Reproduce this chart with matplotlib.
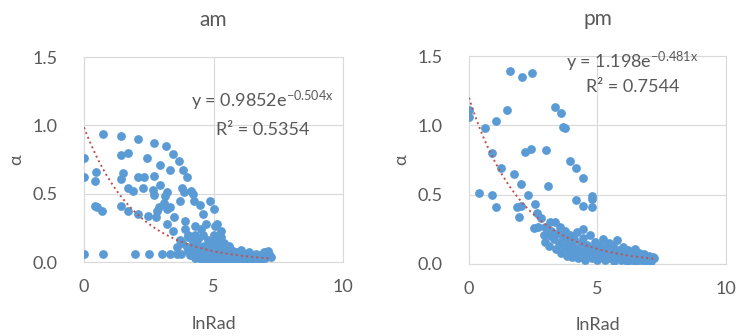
import numpy as np
import matplotlib
matplotlib.use("Agg")
import matplotlib.pyplot as plt

plt.rcParams['font.family'] = ['Lato', 'DejaVu Sans']
plt.rcParams['mathtext.default'] = 'regular'

# am panel: lnRad vs alpha
am_x = [0.00, 0.00, 0.45, 0.43, 0.43, 0.52, 0.71, 0.00, 0.72, 0.72,
        1.42, 1.42, 1.71, 1.42, 1.52, 1.42, 1.71, 1.71, 1.88, 1.97,
        2.09, 2.09, 2.32, 2.27, 2.07, 2.44, 2.50, 2.69, 2.69, 2.65,
        2.71, 2.46, 2.76, 3.02, 3.17, 2.94, 3.32, 3.32, 2.94, 3.07,
        3.20, 3.20, 3.45, 3.65, 3.32, 3.48, 3.58, 3.74, 3.45, 3.71,
        3.84, 3.97, 3.78, 3.87, 3.90, 4.12, 4.20, 4.25, 4.48, 4.61,
        4.85, 5.00, 5.06, 5.15, 5.28, 5.00, 4.64, 4.29, 4.51, 4.03,
        3.71, 3.97, 3.58, 2.81, 2.91, 3.13, 3.20,
        3.80, 4.00, 4.20, 4.40, 4.60, 4.80, 5.00, 5.20, 5.40, 5.60,
        4.30, 4.70, 3.90, 5.30,
        4.00, 4.10, 4.20, 4.30, 4.35, 4.40, 4.50, 4.55, 4.60, 4.70,
        4.75, 4.80, 4.85, 4.90, 5.00, 5.00, 5.05, 5.10, 5.15, 5.20,
        5.25, 5.30, 5.35, 5.40, 5.45, 5.50, 5.55, 5.60, 5.65, 5.70,
        5.75, 5.80, 5.85, 5.90, 5.95, 6.00, 6.05, 6.10, 6.15, 6.20,
        6.25, 6.30, 6.35, 6.40, 6.45, 6.50, 6.55, 6.60, 6.65, 6.70,
        6.75, 6.80, 6.85, 6.90, 6.95, 7.00, 7.05, 7.10, 7.15, 7.20]
am_y = [0.76, 0.62, 0.66, 0.59, 0.41, 0.40, 0.37, 0.06, 0.06, 0.94,
        0.92, 0.78, 0.80, 0.61, 0.65, 0.41, 0.37, 0.54, 0.52, 0.06,
        0.90, 0.62, 0.62, 0.54, 0.35, 0.76, 0.06, 0.87, 0.63, 0.53,
        0.49, 0.34, 0.33, 0.06, 0.85, 0.71, 0.67, 0.06, 0.56, 0.43,
        0.39, 0.28, 0.79, 0.74, 0.40, 0.33, 0.06, 0.06, 0.23, 0.45,
        0.67, 0.62, 0.54, 0.51, 0.30, 0.52, 0.50, 0.45, 0.42, 0.35,
        0.45, 0.39, 0.26, 0.28, 0.23, 0.15, 0.12, 0.20, 0.24, 0.20,
        0.16, 0.11, 0.11, 0.37, 0.40, 0.48, 0.51,
        0.14, 0.18, 0.15, 0.17, 0.20, 0.16, 0.20, 0.16, 0.14, 0.12,
        0.26, 0.28, 0.24, 0.18,
        0.08, 0.05, 0.10, 0.03, 0.07, 0.12, 0.02, 0.06, 0.09, 0.04,
        0.01, 0.11, 0.07, 0.03, 0.05, 0.09, 0.01, 0.13, 0.04, 0.07,
        0.02, 0.10, 0.05, 0.01, 0.08, 0.03, 0.06, 0.11, 0.02, 0.05,
        0.08, 0.01, 0.04, 0.07, 0.02, 0.05, 0.09, 0.01, 0.03, 0.06,
        0.02, 0.04, 0.07, 0.01, 0.03, 0.05, 0.02, 0.04, 0.06, 0.01,
        0.03, 0.05, 0.02, 0.04, 0.07, 0.03, 0.05, 0.08, 0.06, 0.04]

# pm panel
pm_x = [0.00, 0.00, 0.40, 0.64, 0.89, 0.89, 1.06, 1.06, 1.25, 1.49,
        1.61, 1.76, 2.06, 1.87, 1.93, 2.02, 2.01, 2.17, 2.28, 2.43,
        2.45, 2.56, 2.65, 2.80, 2.52, 2.68, 3.01, 3.07, 3.33, 3.60,
        3.65, 3.74, 3.93, 4.15, 4.44, 4.16, 4.44, 4.77, 4.77, 4.77,
        4.42, 2.97, 3.16, 2.97, 3.12, 2.90, 3.05, 3.20,
        3.20, 3.30, 3.35, 3.40, 3.45, 3.50, 3.55, 3.60, 3.65, 3.70,
        3.75, 3.80, 3.85, 3.90, 3.95, 4.00, 4.05, 4.10, 4.15, 4.20,
        4.25, 4.30, 4.35, 4.40, 4.45, 4.50, 4.55, 4.60, 4.65, 4.70,
        4.75, 4.80, 4.85, 4.90, 4.95, 5.00, 5.05, 5.10, 5.15, 5.20,
        5.25, 5.30, 5.35, 5.40, 5.45, 5.50, 5.55, 5.60, 5.65, 5.70,
        5.75, 5.80, 5.85, 5.90, 5.95, 6.00, 6.05, 6.10, 6.15, 6.20,
        6.25, 6.30, 6.35, 6.40, 6.45, 6.50, 6.55, 6.60, 6.65, 6.70,
        6.75, 6.80, 6.85, 6.90, 6.95, 7.00, 7.05, 7.10, 7.15, 7.20]
pm_y = [1.11, 1.06, 0.51, 0.98, 0.80, 0.50, 1.03, 0.41, 0.69, 1.11,
        1.39, 0.65, 1.35, 0.41, 0.34, 0.42, 0.58, 0.81, 0.50, 0.83,
        1.38, 0.43, 0.37, 0.33, 0.26, 0.27, 0.82, 0.56, 1.13, 1.09,
        0.99, 0.98, 0.74, 0.69, 0.62, 0.46, 0.42, 0.49, 0.47, 0.41,
        0.25, 0.27, 0.30, 0.16, 0.13, 0.21, 0.22, 0.20,
        0.24, 0.18, 0.30, 0.11, 0.22, 0.15, 0.27, 0.08, 0.19, 0.12,
        0.24, 0.06, 0.16, 0.10, 0.21, 0.05, 0.13, 0.18, 0.08, 0.23,
        0.04, 0.11, 0.15, 0.07, 0.19, 0.03, 0.10, 0.14, 0.06, 0.21,
        0.09, 0.04, 0.12, 0.16, 0.07, 0.03, 0.10, 0.14, 0.05, 0.18,
        0.08, 0.03, 0.12, 0.06, 0.15, 0.04, 0.09, 0.13, 0.02, 0.07,
        0.17, 0.05, 0.10, 0.03, 0.08, 0.12, 0.04, 0.07, 0.02, 0.10,
        0.05, 0.08, 0.03, 0.06, 0.11, 0.02, 0.05, 0.08, 0.03, 0.06,
        0.04, 0.07, 0.02, 0.05, 0.03, 0.06, 0.04, 0.02, 0.05, 0.04]

# exponential trendlines as printed on the chart
am_a, am_b, am_r2 = 0.9852, -0.504, 0.5354
pm_a, pm_b, pm_r2 = 1.198, -0.481, 0.7544

grey = '#595959'
blue = '#5B9BD5'

fig = plt.figure(figsize=(7.39, 3.36), dpi=100)
ax1 = fig.add_axes([0.1137, 0.2202, 0.3505, 0.6101])
ax2 = fig.add_axes([0.6346, 0.2143, 0.3478, 0.6190])

panels = [(ax1, am_x, am_y, am_a, am_b, am_r2, 'am', (262, 101), (263, 130)),
          (ax2, pm_x, pm_y, pm_a, pm_b, pm_r2, 'pm', (632, 62), (633, 87))]

for ax, xs, ys, a, b, r2, title, eqpos, r2pos in panels:
    ax.scatter(xs, ys, s=40, color=blue, linewidths=0, zorder=3)
    xf = np.linspace(0, max(xs), 200)
    ax.plot(xf, a * np.exp(b * xf), ':', color='#C0504D', lw=1.4, zorder=4)
    ax.set_xlim(0, 10)
    ax.set_ylim(0, 1.5)
    ax.set_xticks([0, 5, 10])
    ax.set_yticks([0, 0.5, 1.0, 1.5])
    ax.set_yticklabels(['0.0', '0.5', '1.0', '1.5'])
    ax.grid(True, color='#D9D9D9', lw=0.8)
    ax.set_axisbelow(True)
    for sp in ax.spines.values():
        sp.set_color('#D9D9D9')
        sp.set_linewidth(0.8)
    ax.tick_params(length=0, labelsize=13, colors=grey)
    ax.tick_params(axis='x', pad=12)
    ax.tick_params(axis='y', pad=19)
    ax.set_xlabel('lnRad', fontsize=13, color=grey, labelpad=15)
    ax.set_ylabel('α', fontsize=13, color=grey, labelpad=6)
    ax.set_title(title, fontsize=15, color=grey, pad=22)
    fig.text(eqpos[0] / 739, 1 - eqpos[1] / 336,
             r'y = %se$^{%sx}$' % (a, b), fontsize=13, color=grey,
             ha='center', va='center')
    fig.text(r2pos[0] / 739, 1 - r2pos[1] / 336,
             'R² = %s' % r2, fontsize=13, color=grey,
             ha='center', va='center')

fig.savefig('out.png', dpi=100)
